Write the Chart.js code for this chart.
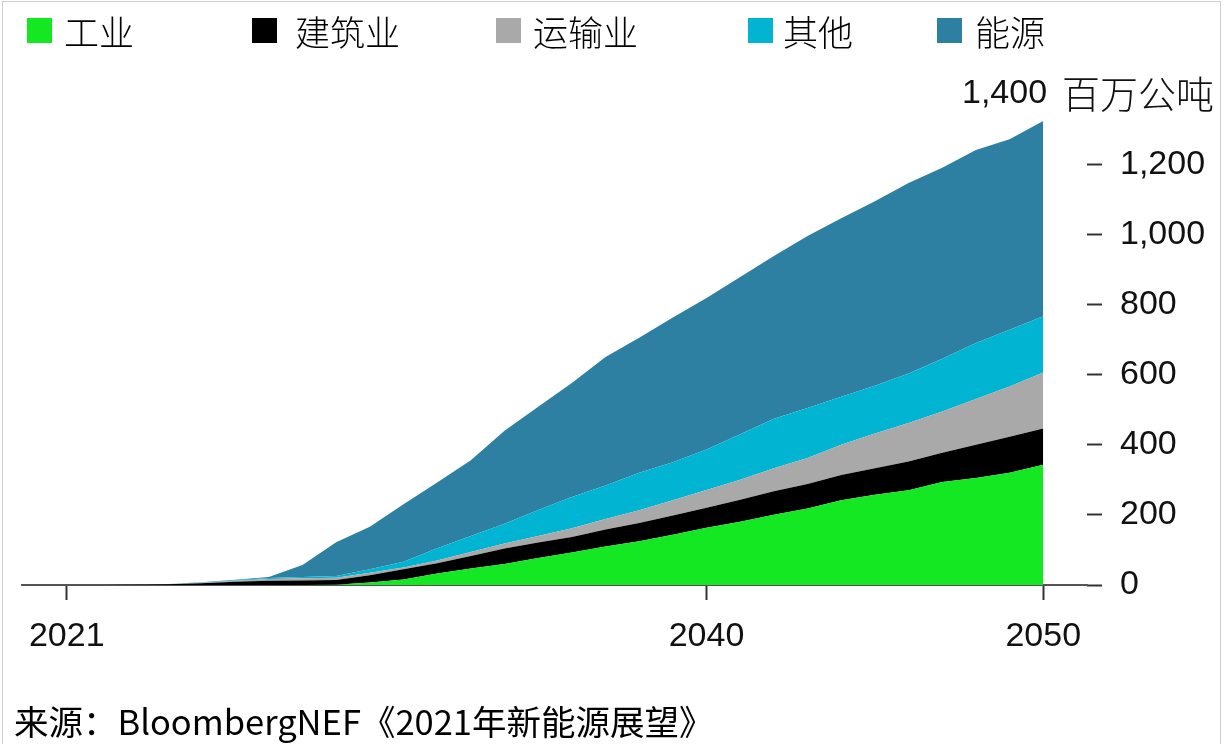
<!DOCTYPE html>
<html>
<head>
<meta charset="utf-8">
<script src="https://cdn.jsdelivr.net/npm/chart.js@4.4.1/dist/chart.umd.min.js"></script>
<style>
  html, body { margin: 0; padding: 0; background: #fff; }
  #wrap { position: relative; width: 1225px; height: 744px; overflow: hidden; background: #fff; }
  #frame { position: absolute; left: 2px; top: 1px; width: 1219px; height: 760px; border: 1px solid #cfcfcf; box-sizing: border-box; pointer-events: none; }
  #c { position: absolute; left: 0; top: 0; }
  .box { position: absolute; top: 18px; width: 25px; height: 25px; }
  .ltxt { position: absolute; top: 10px; height: 42px; line-height: 42px; font-family: 'Noto Sans CJK SC', sans-serif; font-size: 35px; font-weight: 300; color: #000; white-space: nowrap; }
  #src { position: absolute; left: 14px; top: 700px; height: 40px; line-height: 40px; font-family: 'Noto Sans CJK SC', sans-serif; font-size: 34.5px; color: #000; white-space: nowrap; }
</style>
</head>
<body>
<div id="wrap">
  <canvas id="c" width="1225" height="744"></canvas>
  <div id="legend"></div>
  <div id="src"></div>
  <div id="frame"></div>
</div>
<script>
// ---- data (million metric tons) ----
const years = [2021,2022,2023,2024,2025,2026,2027,2028,2029,2030,2031,2032,2033,2034,2035,2036,2037,2038,2039,2040,2041,2042,2043,2044,2045,2046,2047,2048,2049,2050];
const industry     = [0,0,0,0,0,0,0,0,1,7,16,33,47,60,77,93,110,125,143,163,180,200,218,242,257,270,294,305,320,343];
const buildings    = [0,0,0.5,2,5,9,12,13,13,21,29,29,36,44,44,44,48,52,55,57,63,67,70,72,76,82,83,95,103,103];
const transport    = [0,0,0.1,0.5,1.5,3,5,6,7,7,5,8,11,14,19,25,30,36,44,51,57,66,74,86,99,110,118,130,143,160];
const other        = [0,0,0.1,0.2,0.5,1.5,3,4,5,10,16,35,46,57,74,89,96,107,108,115,130,141,143,137,136,141,150,160,162,160];
const power        = [0,0,0.1,0.3,1,1.5,3,34,96,121,164,187,216,265,294,325,366,385,413,432,448,464,490,509,526,543,545,550,543,557];

const seriesNames  = ['工业','建筑业','运输业','其他','能源'];
const seriesColors = ['#13E823','#000000','#A9A9A9','#00B4D2','#2E80A3'];
const seriesData   = [industry, buildings, transport, other, power];

const xTickValues = [2021, 2040, 2050];
const yTickValues = [0, 200, 400, 600, 800, 1000, 1200, 1400];
const unitText = '百万公吨';
const sourceText = '来源：BloombergNEF《2021年新能源展望》';

// ---- legend (HTML) ----
const legendBoxX  = [27, 252, 496, 748, 937];
const legendTextX = [64, 295, 533, 783, 975];
const legendEl = document.getElementById('legend');
seriesNames.forEach((n, i) => {
  const b = document.createElement('div');
  b.className = 'box'; b.style.left = legendBoxX[i] + 'px'; b.style.background = seriesColors[i];
  legendEl.appendChild(b);
  const t = document.createElement('div');
  t.className = 'ltxt'; t.style.left = legendTextX[i] + 'px'; t.textContent = n;
  legendEl.appendChild(t);
});
document.getElementById('src').textContent = sourceText;

// ---- chart ----
const datasets = seriesData.map((arr, i) => ({
  label: seriesNames[i],
  data: years.map((yr, j) => ({ x: yr, y: arr[j] })),
  backgroundColor: seriesColors[i],
  borderColor: seriesColors[i],
  borderWidth: 0,
  pointRadius: 0,
  tension: 0,
  fill: i === 0 ? 'origin' : '-1'
}));

const unitPlugin = {
  id: 'unitLabel',
  afterDraw(chart) {
    const ys = chart.scales.y;
    const top = yTickValues[yTickValues.length - 1];
    const py = ys.getPixelForValue(top);
    const ctx = chart.ctx;
    ctx.save();
    ctx.fillStyle = '#111';
    ctx.textBaseline = 'middle';
    ctx.textAlign = 'left';
    ctx.font = "34px 'Liberation Sans', Arial, sans-serif";
    ctx.fillText(top.toLocaleString('en-US'), 962, py);
    ctx.font = "300 38px 'Noto Sans CJK SC', sans-serif";
    ctx.fillText(unitText, 1062, py);
    ctx.restore();
  }
};

new Chart(document.getElementById('c'), {
  type: 'line',
  data: { datasets },
  plugins: [unitPlugin],
  options: {
    responsive: false,
    animation: false,
    events: [],
    layout: { padding: { top: 94, left: 22, right: 0, bottom: 0 } },
    plugins: { legend: { display: false }, tooltip: { enabled: false }, title: { display: false } },
    scales: {
      x: {
        type: 'linear',
        min: 2019.67,
        max: 2051.3,
        afterBuildTicks(s) { s.ticks = xTickValues.map(v => ({ value: v })); },
        afterFit(s) { s.height = 159; },
        grid: { drawOnChartArea: false, drawTicks: true, tickLength: 15, tickWidth: 2, tickColor: '#333' },
        border: { display: true, color: '#555', width: 2 },
        ticks: {
          autoSkip: false, maxRotation: 0, padding: 16, color: '#111',
          font: { family: "'Liberation Sans', Arial, sans-serif", size: 34 },
          callback: v => String(v)
        }
      },
      y: {
        position: 'right',
        stacked: true,
        min: 0,
        max: 1400,
        afterBuildTicks(s) { s.ticks = yTickValues.map(v => ({ value: v })); },
        afterFit(s) { s.width = 138; },
        grid: {
          drawOnChartArea: false, drawTicks: true, tickLength: 15, tickWidth: 2,
          tickColor: ctx => (ctx.tick && ctx.tick.value === 1400) ? 'rgba(0,0,0,0)' : '#333'
        },
        border: { display: false },
        ticks: {
          padding: 18, color: '#111',
          font: { family: "'Liberation Sans', Arial, sans-serif", size: 34 },
          callback: v => v === 1400 ? '' : v.toLocaleString('en-US')
        }
      }
    }
  }
});
</script>
</body>
</html>
